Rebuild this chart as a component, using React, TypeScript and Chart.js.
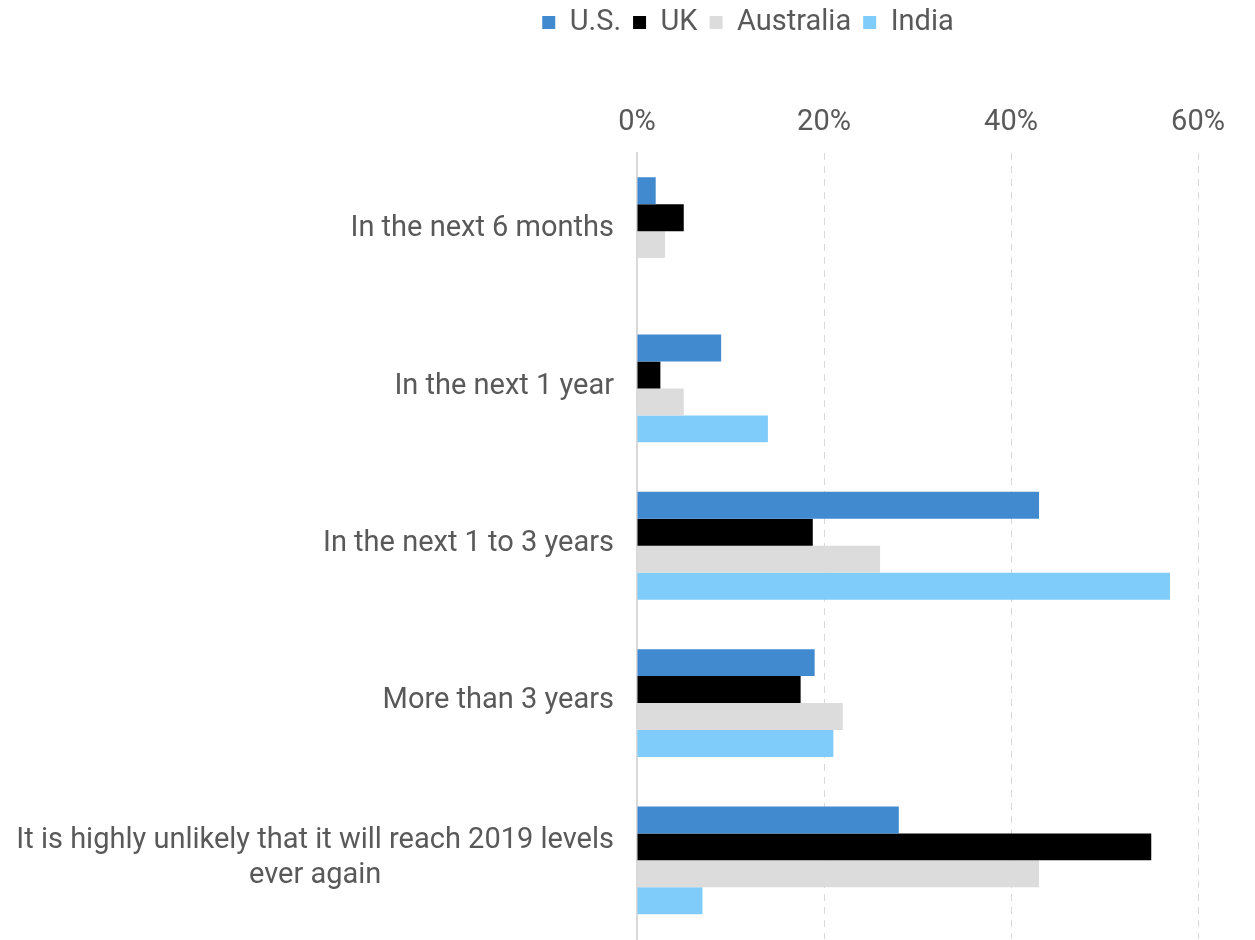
import React, { useEffect, useRef } from "react";
import { Chart, registerables } from "chart.js";

Chart.register(...registerables);

const categories: (string | string[])[] = [
  "In the next 6 months",
  "In the next 1 year",
  "In the next 1 to 3 years",
  "More than 3 years",
  ["It is highly unlikely that it will reach 2019 levels", "ever again"],
];
const usValues = [2, 9, 43, 19, 28];
const ukValues = [5, 2.5, 18.8, 17.5, 55];
const australiaValues = [3, 5, 26, 22, 43];
const indiaValues = [0, 14, 57, 21, 7];
const xTicks = [0, 20, 40, 60];

const TEXT = "#595959";
const FONT = "Roboto";
const FS = 29;

const categoryLabelPlugin = {
  id: "categoryLabels",
  afterDraw(chart: any) {
    const ctx = chart.ctx;
    const y = chart.scales.y;
    const right = chart.chartArea.left - 23;
    ctx.save();
    ctx.font = `${FS}px ${FONT}`;
    ctx.fillStyle = TEXT;
    ctx.textAlign = "center";
    ctx.textBaseline = "middle";
    categories.forEach((lab, i) => {
      const lines = Array.isArray(lab) ? lab : [lab];
      const maxW = Math.max(...lines.map((l) => ctx.measureText(l).width));
      const cx = right - maxW / 2;
      const yc = y.getPixelForTick(i) - 2;
      const lh = 35;
      lines.forEach((l, j) => {
        ctx.fillText(l, cx, yc + (j - (lines.length - 1) / 2) * lh);
      });
    });
    ctx.restore();
  },
};

export default function App() {
  const ref = useRef<HTMLCanvasElement>(null);
  useEffect(() => {
    if (!ref.current) return;
    const chart = new Chart(ref.current, {
      type: "bar",
      data: {
        labels: categories as any,
        datasets: [
          { label: "U.S.", data: usValues, backgroundColor: "#418AD0" },
          { label: "UK", data: ukValues, backgroundColor: "#000000" },
          { label: "Australia", data: australiaValues, backgroundColor: "#DCDCDC" },
          { label: "India", data: indiaValues, backgroundColor: "#7FCBF9" },
        ],
      },
      options: {
        indexAxis: "y",
        animation: false,
        responsive: true,
        maintainAspectRatio: false,
        layout: { padding: { left: 298, right: 57, top: -4, bottom: 1 } },
        datasets: { bar: { categoryPercentage: 0.685, barPercentage: 1 } },
        plugins: {
          legend: {
            position: "top",
            labels: {
              font: { family: FONT, size: FS },
              color: TEXT,
              boxWidth: 13,
              boxHeight: 13,
              padding: 12,
            },
          },
          tooltip: { enabled: false },
        },
        scales: {
          x: {
            position: "top",
            min: 0,
            max: 60,
            afterBuildTicks: (s: any) => {
              s.ticks = xTicks.map((v) => ({ value: v }));
            },
            afterFit: (s: any) => {
              const lb = s.chart && s.chart.legend ? s.chart.legend.bottom : NaN;
              s.height = 159.5 - (Number.isFinite(lb) ? lb : 54);
            },
            ticks: {
              font: { family: FONT, size: FS },
              color: TEXT,
              padding: 12,
              callback: (v: any) => `${v}%`,
            },
            grid: {
              color: "#D9D9D9",
              lineWidth: 1,
              drawTicks: false,
            },
            border: { display: false, dash: [7, 6] },
          },
          y: {
            ticks: { display: false },
            grid: { display: false },
            border: { display: true, color: "#D9D9D9", width: 2 },
            afterFit: (s: any) => {
              s.width = 637 - 298;
            },
          },
        },
      },
      plugins: [categoryLabelPlugin],
    });
    return () => chart.destroy();
  }, []);
  return (
    <div style={{ position: "fixed", top: 0, left: 0, width: 1255, height: 940 }}>
      <canvas ref={ref} />
    </div>
  );
}
